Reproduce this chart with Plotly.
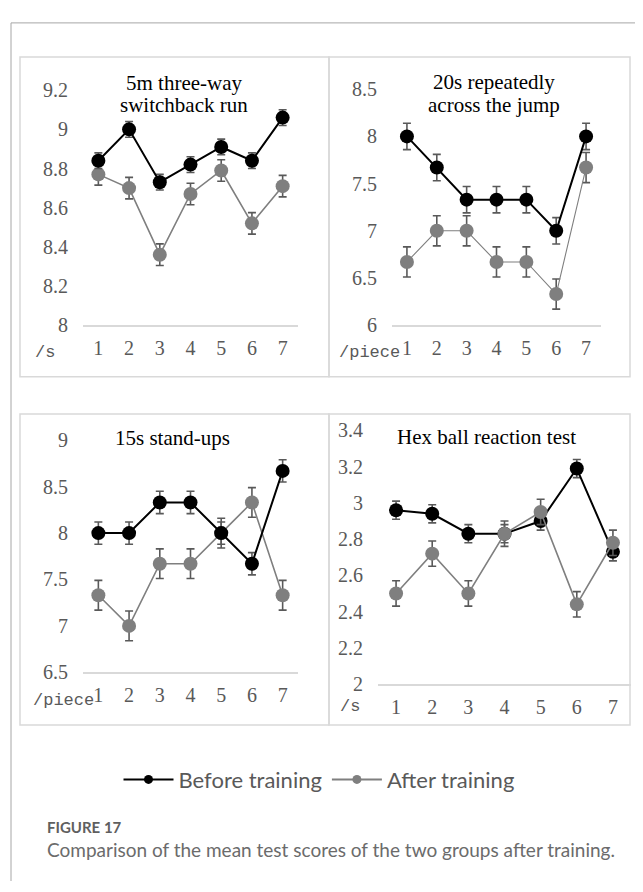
import plotly.graph_objects as go

# Page is rendered with the browser's default 8px body margin, so the
# figure is sized to fill the 643x892 window exactly after that offset.
PAGE_W, PAGE_H = 643, 892
OFF = 8
W, H = PAGE_W - OFF, PAGE_H - OFF

trials = [1, 2, 3, 4, 5, 6, 7]

# Panel 1: 5m three-way switchback run (/s)
run_before = [8.84, 9.00, 8.73, 8.82, 8.91, 8.84, 9.06]
run_after = [8.77, 8.70, 8.36, 8.67, 8.79, 8.52, 8.71]
run_before_err = [0.04, 0.04, 0.04, 0.04, 0.04, 0.04, 0.04]
run_after_err = [0.055, 0.055, 0.055, 0.055, 0.055, 0.055, 0.055]

# Panel 2: 20s repeatedly across the jump (/piece)
jump_before = [8.00, 7.67, 7.33, 7.33, 7.33, 7.00, 8.00]
jump_after = [6.67, 7.00, 7.00, 6.67, 6.67, 6.33, 7.67]
jump_before_err = [0.14, 0.14, 0.14, 0.14, 0.14, 0.14, 0.14]
jump_after_err = [0.16, 0.16, 0.16, 0.16, 0.16, 0.16, 0.16]

# Panel 3: 15s stand-ups (/piece)
stand_before = [8.00, 8.00, 8.33, 8.33, 8.00, 7.67, 8.67]
stand_after = [7.33, 7.00, 7.67, 7.67, 8.00, 8.33, 7.33]
stand_before_err = [0.12, 0.12, 0.12, 0.12, 0.12, 0.12, 0.12]
stand_after_err = [0.16, 0.16, 0.16, 0.16, 0.16, 0.16, 0.16]

# Panel 4: Hex ball reaction test (/s)
hex_before = [2.96, 2.94, 2.83, 2.83, 2.90, 3.19, 2.73]
hex_after = [2.50, 2.72, 2.50, 2.83, 2.95, 2.44, 2.78]
hex_before_err = [0.05, 0.05, 0.05, 0.05, 0.05, 0.05, 0.05]
hex_after_err = [0.07, 0.07, 0.07, 0.07, 0.07, 0.07, 0.07]

series_names = ["Before training", "After training"]
panel_titles = [["5m three-way", "switchback run"],
                ["20s repeatedly", "across the jump"],
                ["15s stand-ups"],
                ["Hex ball reaction test"]]
unit_labels = ["/s", "/piece", "/piece", "/s"]
caption_head = "FIGURE 17"
caption_text = "Comparison of the mean test scores of the two groups after training."

BLACK = "#000000"
GRAY = "#7f7f7f"
ERR = "#595959"
TICK = "#595959"


def px(x):
    """page pixel x -> paper fraction"""
    return (x - OFF) / W


def py(y):
    """page pixel y -> paper fraction"""
    return 1 - (y - OFF) / H


panels = [
    dict(xd=(83, 298), yd=(322, 81), rng=(8, 9.2), dt=0.2,
         data=(run_before, run_after, run_before_err, run_after_err),
         box=(20, 47, 329, 375), order="ab", aw=1.6),
    dict(xd=(392, 601), yd=(322, 80), rng=(6, 8.5), dt=0.5,
         data=(jump_before, jump_after, jump_before_err, jump_after_err),
         box=(329, 47, 630, 375), order="ab", aw=1.1),
    dict(xd=(83, 298), yd=(678, 440), rng=(6.5, 9), dt=0.5,
         data=(stand_before, stand_after, stand_before_err, stand_after_err),
         box=(20, 413, 329, 732), order="ab", aw=1.6),
    dict(xd=(378, 631), yd=(690, 430), rng=(2, 3.4), dt=0.2,
         data=(hex_before, hex_after, hex_before_err, hex_after_err),
         box=(329, 413, 630, 732), order="ba", aw=1.6),
]

fig = go.Figure()
layout = {}
shapes = []
annotations = []

for i, p in enumerate(panels):
    n = "" if i == 0 else str(i + 1)
    xa, ya = "x" + n, "y" + n
    before, after, berr, aerr = p["data"]
    tr_after = go.Scatter(
        x=trials, y=after, mode="lines+markers", xaxis=xa, yaxis=ya,
        line=dict(color=GRAY, width=p["aw"]),
        marker=dict(color=GRAY, size=14),
        error_y=dict(type="data", array=aerr, visible=True, color=ERR,
                     thickness=1.6, width=4),
        showlegend=False, hoverinfo="skip")
    tr_before = go.Scatter(
        x=trials, y=before, mode="lines+markers", xaxis=xa, yaxis=ya,
        line=dict(color=BLACK, width=2),
        marker=dict(color=BLACK, size=14),
        error_y=dict(type="data", array=berr, visible=True, color=ERR,
                     thickness=1.6, width=4),
        showlegend=False, hoverinfo="skip")
    if p["order"] == "ab":
        fig.add_trace(tr_after)
        fig.add_trace(tr_before)
    else:
        fig.add_trace(tr_before)
        fig.add_trace(tr_after)

    layout["xaxis" + n] = dict(
        domain=[px(p["xd"][0]), px(p["xd"][1])], range=[0.5, 7.5],
        anchor=ya, tickvals=trials, ticks="", showgrid=False, zeroline=False,
        showline=True, linecolor="#d9d9d9", linewidth=1.5,
        tickfont=dict(family="Liberation Serif", size=20, color=TICK),
        ticklabelstandoff=4)
    layout["yaxis" + n] = dict(
        domain=[py(p["yd"][0]), py(p["yd"][1])], range=list(p["rng"]),
        anchor=xa, dtick=p["dt"], tick0=p["rng"][0], ticks="",
        showgrid=False, zeroline=False, showline=False,
        tickfont=dict(family="Liberation Serif", size=20, color=TICK),
        ticklabelstandoff=14)

    bx0, by0, bx1, by1 = p["box"]
    shapes.append(dict(type="rect", xref="paper", yref="paper",
                       x0=px(bx0), x1=px(bx1), y0=py(by1), y1=py(by0),
                       line=dict(color="#d9d9d9", width=1.5)))

# titles
title_pos = [(184, [74, 96]), (494, [73, 96]), (172, [438]), (487, [437])]
for (cx, ys), lines in zip(title_pos, panel_titles):
    for yy, t in zip(ys, lines):
        annotations.append(dict(text=t, x=px(cx), y=py(yy), xref="paper",
                                yref="paper", showarrow=False,
                                xanchor="center", yanchor="middle",
                                font=dict(family="Liberation Serif", size=21,
                                          color="#000000")))

# unit labels
unit_pos = [(33, 350), (337, 350), (31, 707), (338, 713)]
for (ux, uy), t in zip(unit_pos, unit_labels):
    annotations.append(dict(text=t, x=px(ux), y=py(uy), xref="paper",
                            yref="paper", showarrow=False, xanchor="left",
                            yanchor="middle",
                            font=dict(family="Liberation Mono", size=17,
                                      color=TICK)))

# legend-only traces
fig.add_trace(go.Scatter(x=[None], y=[None], mode="lines+markers",
                         name=series_names[0],
                         line=dict(color=BLACK, width=2),
                         marker=dict(color=BLACK, size=9)))
fig.add_trace(go.Scatter(x=[None], y=[None], mode="lines+markers",
                         name=series_names[1],
                         line=dict(color=GRAY, width=2),
                         marker=dict(color=GRAY, size=9)))

# outer frame (top and left edges)
shapes.append(dict(type="line", xref="paper", yref="paper",
                   x0=px(11), x1=1, y0=py(12), y1=py(12),
                   line=dict(color="#a6a6a6", width=1)))
shapes.append(dict(type="line", xref="paper", yref="paper",
                   x0=px(11), x1=px(11), y0=py(12), y1=0,
                   line=dict(color="#a6a6a6", width=1)))

annotations.append(dict(text="<b>" + caption_head + "</b>", x=px(45),
                        y=py(837), xref="paper", yref="paper",
                        showarrow=False, xanchor="left", yanchor="middle",
                        font=dict(family="Lato", size=15, color="#5f5f5f")))
annotations.append(dict(text=caption_text, x=px(45), y=py(860),
                        xref="paper", yref="paper", showarrow=False,
                        xanchor="left", yanchor="middle",
                        font=dict(family="Lato", size=19, color="#6b6b6b")))

fig.update_layout(
    width=W, height=H, margin=dict(l=0, r=0, t=0, b=0),
    paper_bgcolor="white", plot_bgcolor="white",
    shapes=shapes, annotations=annotations,
    legend=dict(orientation="h", x=px(319), y=py(788), xanchor="center",
                yanchor="middle", itemsizing="trace", itemwidth=50,
                font=dict(family="Lato", size=22, color="#595959"),
                bgcolor="rgba(0,0,0,0)"),
    **layout)

fig.write_html("out.html")
